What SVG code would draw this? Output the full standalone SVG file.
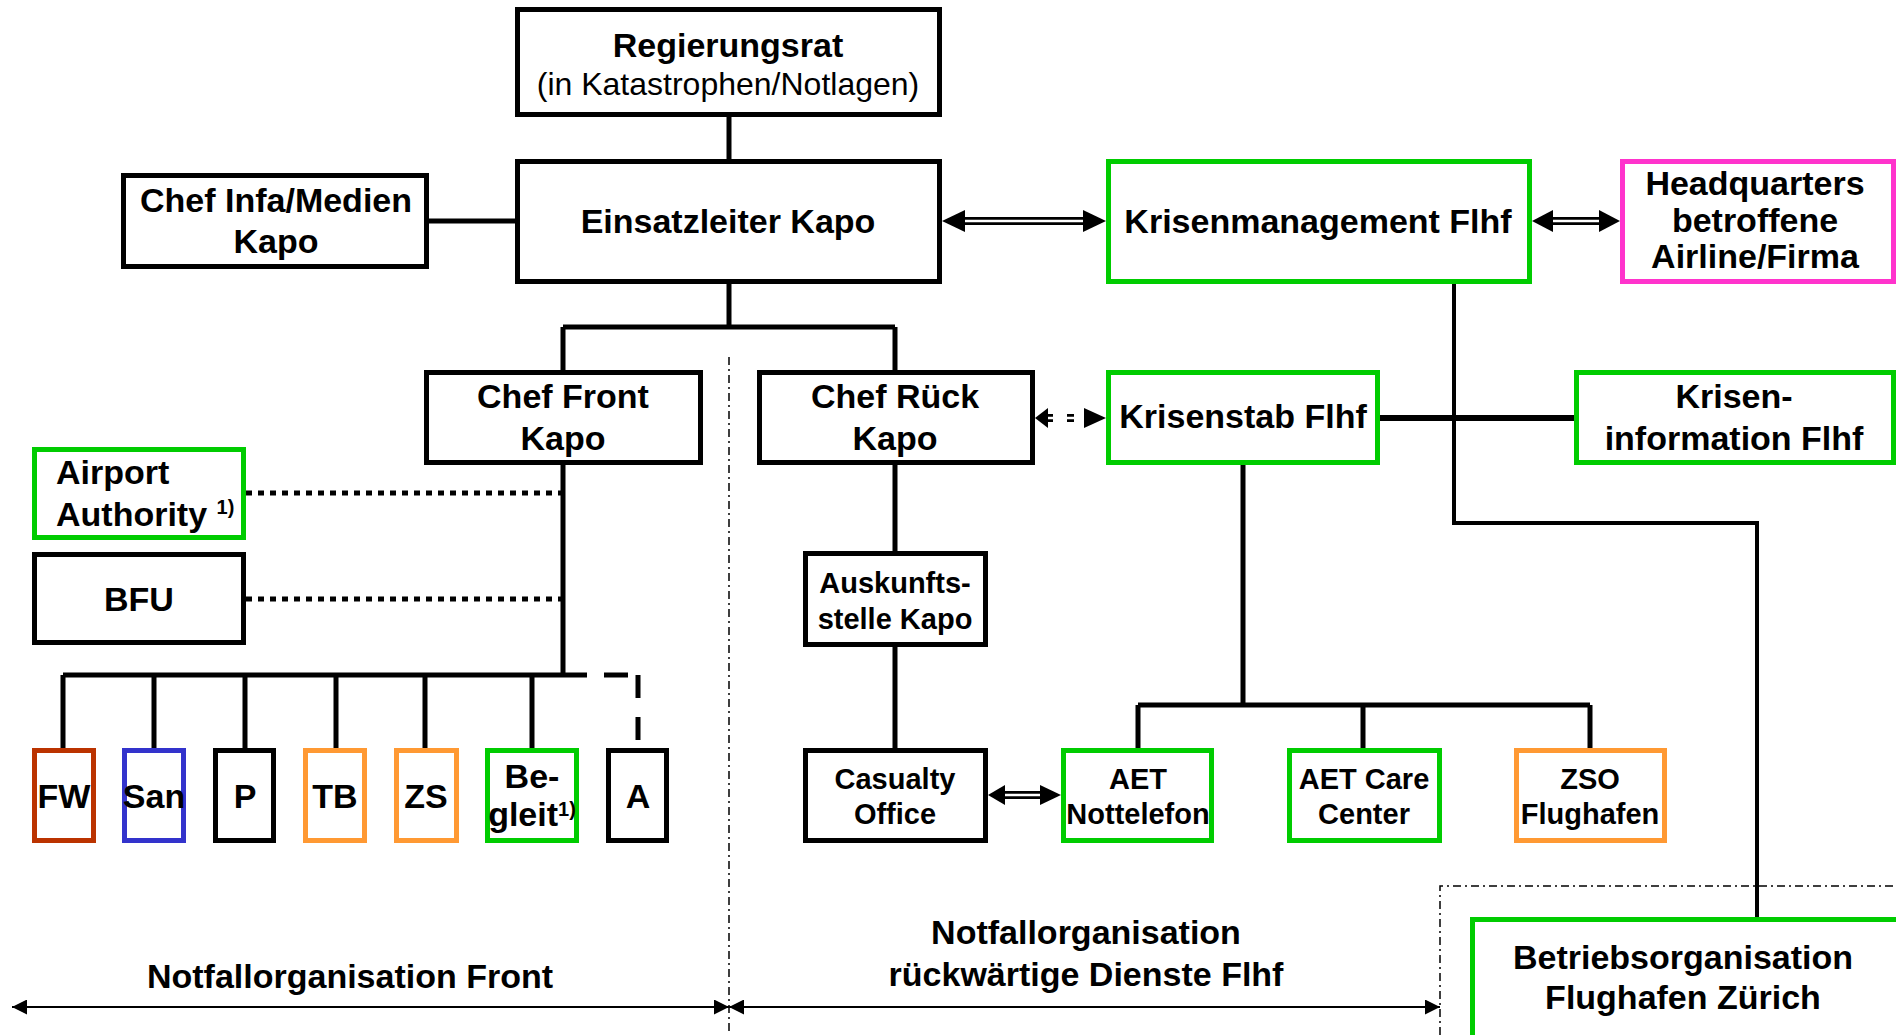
<svg xmlns="http://www.w3.org/2000/svg" width="1896" height="1035" viewBox="0 0 1896 1035">
<style>
.bx{fill:#fff;stroke:#000;stroke-width:5}
.g{stroke:#00cc00}
.pk{stroke:#ff33cc}
.or{stroke:#ff9933}
.rd{stroke:#bb3300}
.bl{stroke:#3333cc}
.t{font-family:"Liberation Sans",Arial,sans-serif;font-weight:bold;font-size:34px;fill:#000;text-anchor:middle}
.s{font-size:29px}
.r{font-weight:normal;font-size:32px}
.sup{font-size:20px}
.ln{fill:none;stroke:#000;stroke-width:5}
.thin{fill:none;stroke:#000;stroke-width:2}
.dd{fill:none;stroke:#000;stroke-width:1.5;stroke-dasharray:8 4 2 4}
.dot{fill:none;stroke:#000;stroke-width:5;stroke-dasharray:6 6}
.dsh{fill:none;stroke:#000;stroke-width:5}
.dbl{stroke:#000;stroke-width:8}
.dblw{stroke:#fff;stroke-width:2.5}
</style>
<defs>
<marker id="ah" markerUnits="userSpaceOnUse" viewBox="0 0 15 15" markerWidth="15" markerHeight="15" refX="15" refY="7.5" orient="auto-start-reverse"><path d="M0,0 L15,7.5 L0,15 z" fill="#000"/></marker>
</defs>

<g id="connectors">
<path class="ln" d="M729,117 V159"/>
<path class="ln" d="M429,221 H515"/>
<path class="ln" d="M729,284 V327"/>
<path class="ln" d="M563,327 H895 M563,327 V370 M895,327 V370"/>
<path class="ln" d="M563,465 V675"/>
<path class="dot" d="M246,493 H561 M246,599 H561"/>
<path class="ln" d="M63,675 H587"/>
<path class="ln" d="M63,675 V748 M154,675 V748 M245,675 V748 M336,675 V748 M425,675 V748 M532,675 V748"/>
<path class="dsh" d="M604,675 H628 M638,675 V698 M638,717 V740"/>
<path class="ln" d="M895,465 V551 M895,647 V748"/>
<path class="ln" d="M1380,418 H1574" style="stroke-width:6"/>
<path class="ln" d="M1454,284 V523 H1757 V917" style="stroke-width:4"/>
<path class="ln" d="M1243,464 V705 M1138,705 H1590 M1138,705 V748 M1363,705 V748 M1590,705 V748"/>
<!-- double arrows -->
<g id="arr-einsatz-krisen">
<line class="dbl" x1="962" y1="221" x2="1086" y2="221"/>
<line class="dblw" x1="962" y1="221" x2="1086" y2="221"/>
<polygon points="942,221 965,210 965,232"/>
<polygon points="1106,221 1083,210 1083,232"/>
</g>
<g id="arr-krisen-hq">
<line class="dbl" x1="1550" y1="221" x2="1602" y2="221"/>
<line class="dblw" x1="1550" y1="221" x2="1602" y2="221"/>
<polygon points="1532,221 1553,210 1553,232"/>
<polygon points="1620,221 1599,210 1599,232"/>
</g>
<g id="arr-casualty-aet">
<line class="dbl" x1="1002" y1="795" x2="1043" y2="795"/>
<line class="dblw" x1="1002" y1="795" x2="1043" y2="795"/>
<polygon points="988,795 1005,785 1005,805"/>
<polygon points="1061,795 1040,785 1040,805"/>
</g>
<g id="arr-rueck-stab">
<line class="dbl" x1="1046" y1="418" x2="1086" y2="418" style="stroke-dasharray:7 14"/>
<line class="dblw" x1="1046" y1="418" x2="1086" y2="418"/>
<polygon points="1035,418 1048,408 1048,428"/>
<polygon points="1106,418 1084,408 1084,428"/>
</g>
<!-- region markers -->
<path class="dd" d="M729,357 V1035"/>
<path class="dd" d="M1440,1035 V886 H1896"/>
<line class="thin" x1="12" y1="1007" x2="729" y2="1007" marker-start="url(#ah)" marker-end="url(#ah)"/>
<line class="thin" x1="729" y1="1007" x2="1440" y2="1007" marker-start="url(#ah)" marker-end="url(#ah)"/>
</g>

<g id="regierungsrat">
<rect class="bx" x="517.5" y="9.5" width="422" height="105"/>
<text class="t" x="728" y="57">Regierungsrat</text>
<text class="t r" x="728" y="95">(in Katastrophen/Notlagen)</text>
</g>
<g id="chef-infa">
<rect class="bx" x="123.5" y="175.5" width="303" height="91"/>
<text class="t" x="276" y="212">Chef Infa/Medien</text>
<text class="t" x="276" y="253">Kapo</text>
</g>
<g id="einsatzleiter">
<rect class="bx" x="517.5" y="161.5" width="422" height="120"/>
<text class="t" x="728" y="233">Einsatzleiter Kapo</text>
</g>
<g id="krisenmanagement">
<rect class="bx g" x="1108.5" y="161.5" width="421" height="120"/>
<text class="t" x="1318" y="233">Krisenmanagement Flhf</text>
</g>
<g id="headquarters">
<rect class="bx pk" x="1622.5" y="161.5" width="271" height="120"/>
<text class="t" x="1755" y="195">Headquarters</text>
<text class="t" x="1755" y="232">betroffene</text>
<text class="t" x="1755" y="268">Airline/Firma</text>
</g>
<g id="chef-front">
<rect class="bx" x="426.5" y="372.5" width="274" height="90"/>
<text class="t" x="563" y="408">Chef Front</text>
<text class="t" x="563" y="450">Kapo</text>
</g>
<g id="chef-rueck">
<rect class="bx" x="759.5" y="372.5" width="273" height="90"/>
<text class="t" x="895" y="408">Chef Rück</text>
<text class="t" x="895" y="450">Kapo</text>
</g>
<g id="krisenstab">
<rect class="bx g" x="1108.5" y="372.5" width="269" height="90"/>
<text class="t" x="1243" y="428">Krisenstab Flhf</text>
</g>
<g id="kriseninformation">
<rect class="bx g" x="1576.5" y="372.5" width="317" height="90"/>
<text class="t" x="1734" y="408">Krisen-</text>
<text class="t" x="1734" y="450">information Flhf</text>
</g>
<g id="airport-authority">
<rect class="bx g" x="34.5" y="449.5" width="209" height="88"/>
<text class="t" x="56" y="484" style="text-anchor:start">Airport</text>
<text class="t" x="56" y="526" style="text-anchor:start">Authority <tspan class="sup" dy="-12">1)</tspan></text>
</g>
<g id="bfu">
<rect class="bx" x="34.5" y="554.5" width="209" height="88"/>
<text class="t" x="139" y="611">BFU</text>
</g>
<g id="fw">
<rect class="bx rd" x="34.5" y="750.5" width="59" height="90"/>
<text class="t" x="64" y="808">FW</text>
</g>
<g id="san">
<rect class="bx bl" x="124.5" y="750.5" width="59" height="90"/>
<text class="t" x="154" y="808">San</text>
</g>
<g id="p">
<rect class="bx" x="215.5" y="750.5" width="58" height="90"/>
<text class="t" x="245" y="808">P</text>
</g>
<g id="tb">
<rect class="bx or" x="305.5" y="750.5" width="59" height="90"/>
<text class="t" x="335" y="808">TB</text>
</g>
<g id="zs">
<rect class="bx or" x="396.5" y="750.5" width="60" height="90"/>
<text class="t" x="426" y="808">ZS</text>
</g>
<g id="begleit">
<rect class="bx g" x="487.5" y="750.5" width="89" height="90"/>
<text class="t" x="532" y="788">Be-</text>
<text class="t" x="532" y="826">gleit<tspan class="sup" dy="-10">1)</tspan></text>
</g>
<g id="a">
<rect class="bx" x="608.5" y="750.5" width="58" height="90"/>
<text class="t" x="638" y="808">A</text>
</g>
<g id="auskunftsstelle">
<rect class="bx" x="805.5" y="553.5" width="180" height="91"/>
<text class="t s" x="895" y="593">Auskunfts-</text>
<text class="t s" x="895" y="629">stelle Kapo</text>
</g>
<g id="casualty-office">
<rect class="bx" x="805.5" y="750.5" width="180" height="90"/>
<text class="t s" x="895" y="789">Casualty</text>
<text class="t s" x="895" y="824">Office</text>
</g>
<g id="aet-nottelefon">
<rect class="bx g" x="1063.5" y="750.5" width="148" height="90"/>
<text class="t s" x="1138" y="789">AET</text>
<text class="t s" x="1138" y="824">Nottelefon</text>
</g>
<g id="aet-care">
<rect class="bx g" x="1289.5" y="750.5" width="150" height="90"/>
<text class="t s" x="1364" y="789">AET Care</text>
<text class="t s" x="1364" y="824">Center</text>
</g>
<g id="zso">
<rect class="bx or" x="1516.5" y="750.5" width="148" height="90"/>
<text class="t s" x="1590" y="789">ZSO</text>
<text class="t s" x="1590" y="824">Flughafen</text>
</g>
<g id="betriebsorganisation">
<rect class="bx g" x="1472.5" y="919.5" width="440" height="200"/>
<text class="t" x="1683" y="969">Betriebsorganisation</text>
<text class="t" x="1683" y="1009">Flughafen Zürich</text>
</g>
<g id="labels">
<text class="t" x="350" y="988">Notfallorganisation Front</text>
<text class="t" x="1086" y="944">Notfallorganisation</text>
<text class="t" x="1086" y="986">rückwärtige Dienste Flhf</text>
</g>
</svg>
